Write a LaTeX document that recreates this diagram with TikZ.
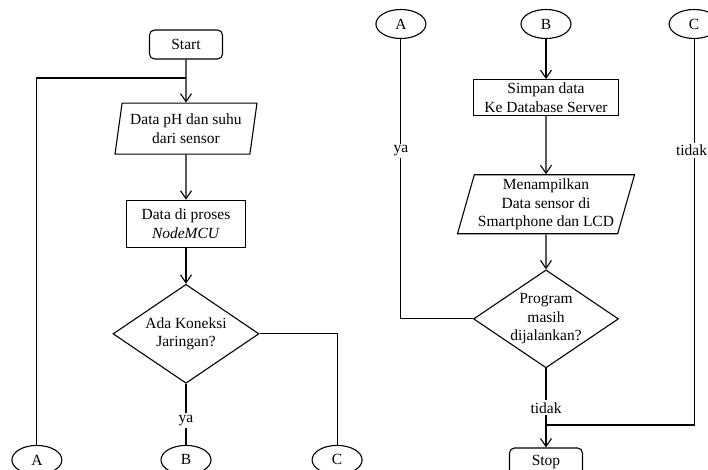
\documentclass[tikz,border=0pt]{standalone}
\usepackage{fontspec}
\setmainfont{Liberation Serif}
\usetikzlibrary{arrows.meta,positioning,shapes.geometric}

\begin{document}
\begin{tikzpicture}
              [x=1pt,y=-1pt,line width=1.1pt,
                every node/.style={font=\fontsize{15.5}{18.5}\selectfont,align=center},
                term/.style={draw,rectangle,rounded corners=5pt,minimum width=73pt,minimum height=29pt},
                proc/.style={draw,rectangle},
                io/.style={draw,trapezium,trapezium stretches body,inner xsep=0pt,inner ysep=2pt},
                dec/.style={draw,diamond,aspect=1.5,inner sep=-12pt},
                conn/.style={draw,ellipse,minimum width=50pt,minimum height=29pt,inner sep=0pt},
                lbl/.style={fill=white,inner sep=2pt},
                arr/.style={-{Straight Barb[length=8pt,width=11pt]}}]
              \clip (0,0) rectangle (708,470);
              \node[term] (n0) at (186,44.5) {Start};
              \node[io,trapezium left angle=78,trapezium right angle=102,minimum width=142pt,minimum height=51pt]
                (n1) [below=43pt of n0] {Data pH dan suhu\\dari sensor};
              \node[proc,minimum width=119pt,minimum height=47pt] (n2) [below=45pt of n1] {Data di proses\\\textit{NodeMCU}};
              \node[dec,minimum width=146pt,minimum height=99pt] (n3) [below=36pt of n2] {Ada Koneksi\\Jaringan?};
              \node[conn] (n5) [below=61pt of n3] {B};
              \node[conn] (n4) [left=98pt of n5] {A};
              \node[conn] (n6) [right=100pt of n5] {C};
              \node[conn] (n8) at (546,24) {B};
              \node[conn] (n7) [left=94pt of n8] {A};
              \node[conn] (n9) [right=97pt of n8] {C};
              \node[proc,minimum width=145pt,minimum height=36pt] (n10) [below=40pt of n8] {Simpan data\\Ke Database Server};
              \node[io,trapezium left angle=73,trapezium right angle=107,minimum width=177pt,minimum height=59pt]
                (n11) [below=58pt of n10] {Menampilkan\\Data sensor di\\Smartphone dan LCD};
              \node[dec,minimum width=145pt,minimum height=98pt] (n12) [below=35pt of n11] {Program\\masih\\dijalankan?};
              \node[term] (n13) [below=79pt of n12] {Stop};
              \coordinate (j) at (186,78);
              \coordinate (m) at (546,425);
              \foreach \from/\to in {n0/n1,n1/n2,n2/n3,n8/n10,n10/n11,n11/n12}
              \draw[arr] (\from) -- (\to);
              \draw (n4) |- (j);
              \draw (n3) -- node[lbl,pos=0.6] {ya} (n5);
              \draw (n3) -| (n6);
              \draw (n7) |- node[lbl,pos=0.2] {ya} (n12);
              \draw (n9) |- node[lbl,pos=0.144,xshift=-2.5pt,inner xsep=0.5pt] {tidak} (m);
              \draw[arr] (n12) -- node[lbl] {tidak} (n13);
            \end{tikzpicture}
\end{document}
